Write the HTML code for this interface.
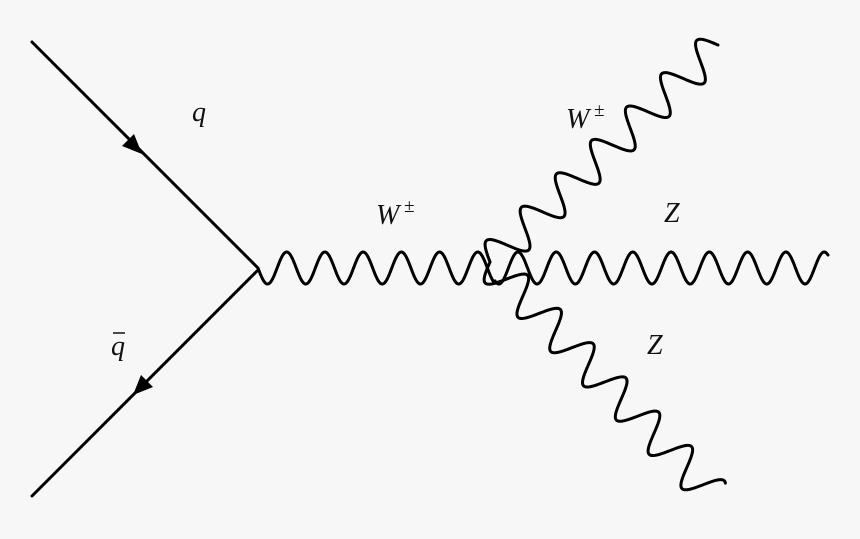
<!DOCTYPE html>
<html><head><meta charset="utf-8"><style>
html,body{margin:0;padding:0;background:#f7f7f7;}
svg{display:block}
text{font-family:"Liberation Serif",serif;font-style:italic;fill:#111;}
</style></head><body>
<svg id="s" width="860" height="539" viewBox="0 0 860 539" xmlns="http://www.w3.org/2000/svg">
<rect width="860" height="539" fill="#f7f7f7"/>
<g stroke="#000" stroke-width="3" fill="none" stroke-linecap="round">
<line x1="32" y1="42" x2="258" y2="268"/>
<line x1="258" y1="270" x2="32" y2="496"/>
<path id="w1"/><path id="z1"/><path id="w2"/><path id="z2"/>
</g>
<polygon points="142,154 122,146 134,134" fill="#000"/>
<polygon points="133,395 141,375 153,387" fill="#000"/>
<text x="192" y="121" font-size="28">q</text>
<text x="111" y="355" font-size="28">q</text>
<line x1="113" y1="333" x2="125" y2="333" stroke="#111" stroke-width="1.5"/>
<text x="376" y="224" font-size="28">W</text><text x="404" y="212" font-size="19" font-style="normal">±</text>
<text x="566" y="128" font-size="28">W</text><text x="594" y="116" font-size="19" font-style="normal">±</text>
<text x="664" y="222" font-size="28">Z</text>
<text x="647" y="354" font-size="28">Z</text>
</svg>
<script>
function wave(id,x1,y1,x2,y2,n,amp,phase){
 var dx=x2-x1,dy=y2-y1,L=Math.hypot(dx,dy),ux=dx/L,uy=dy/L,nx=-uy,ny=ux,d="";
 var N=400;
 for(var i=0;i<=N;i++){var t=i/N*L;var o=amp*Math.sin(2*Math.PI*n*i/N+phase);
  var x=x1+ux*t+nx*o,y=y1+uy*t+ny*o;d+=(i?"L":"M")+x.toFixed(2)+" "+y.toFixed(2);}
 document.getElementById(id).setAttribute("d",d);
}
wave("w1",258,268,495,268,6.2,16,0);
wave("z1",495,268,828,268,8.7,16,Math.PI*0.3);
wave("w2",490,262,718,45,6.5,18,Math.PI);
wave("z2",490,262,713,495,6.8,18,0);
</script>
</body></html>
